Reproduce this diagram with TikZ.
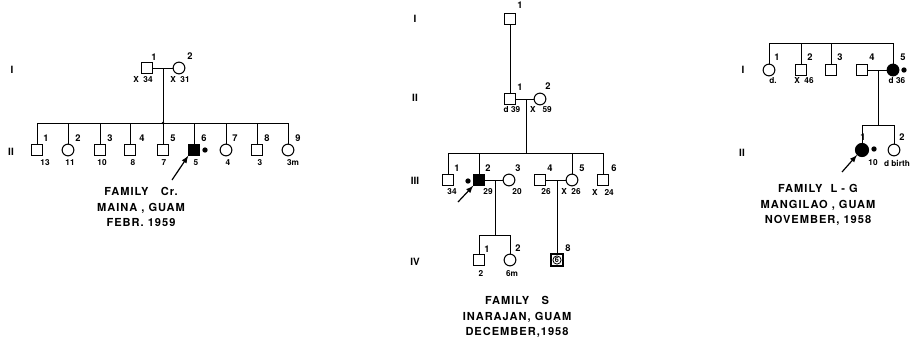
\documentclass[tikz,border=0pt]{standalone}
\usepackage{fontspec}
\setmainfont{TeX Gyre Heros}
\usetikzlibrary{calc}

\begin{document}
\begin{tikzpicture}[x=0.75pt,y=-0.75pt,font=\bfseries\fontsize{7}{8}\selectfont,
  male/.style={draw,line width=0.8pt,rectangle,minimum size=7.8pt,inner sep=0pt},
  female/.style={draw,line width=0.8pt,circle,minimum size=8.8pt,inner sep=0pt},
  sick/.style={fill=black},
  age/.style={font=\bfseries\fontsize{6.2}{6.5}\selectfont},
  dotnode/.style={circle,fill=black,inner sep=0pt,minimum size=4pt},
  gen/.style={font=\bfseries\fontsize{7.5}{8}\selectfont},
  title/.style={font=\bfseries\fontsize{8.3}{11.5}\selectfont\addfontfeatures{LetterSpace=9},align=center},
  link/.style={line width=0.5pt},
  pointer/.style={-latex,line width=0.9pt}]
  \useasboundingbox (0,0) rectangle (921,340);

  % family Cr
  \node[gen] (crI) at (12,70) {I};
  \node[gen] (crII) at (11,152) {II};
  \node[male] (cr1) at (147,68) {};
  \node[female] (cr2) at (179,68) {};
  \node (crn1) at (154,57) {1};
  \node (crn2) at (190,56) {2};
  \node[age] (cra1) at (143,80) {X\ \ 34};
  \node[age] (cra2) at (180,80) {X\ \ 31};
  \coordinate (crm) at (163,68);
  \coordinate (crs) at (163,123);
  \draw[link] (cr1) -- (cr2);
  \draw[link] (crm) -- (crs);
  \fill (crs) circle (1pt);
  \node[male] (c1) at (37,150) {};
  \node[female] (c2) at (68,150) {};
  \node[male] (c3) at (100,150) {};
  \node[male] (c4) at (130,150) {};
  \node[male] (c5) at (163,150) {};
  \node[male,sick] (c6) at (194,150) {};
  \node[female] (c7) at (226,150) {};
  \node[male] (c8) at (257,150) {};
  \node[female] (c9) at (288,150) {};
  \draw[link] (c1 |- crs) -- (c9 |- crs);
  \foreach \k in {1,...,9}
    \draw[link] (c\k |- crs) -- (c\k);
  \node (cn1) at (46,138) {1};
  \node (cn2) at (78,138) {2};
  \node (cn3) at (110,138) {3};
  \node (cn4) at (142,138) {4};
  \node (cn5) at (173,138) {5};
  \node (cn6) at (204,138) {6};
  \node (cn7) at (235,138) {7};
  \node (cn8) at (267,138) {8};
  \node (cn9) at (298,138) {9};
  \node[age] (ca1) at (45,163) {13};
  \node[age] (ca2) at (70,163) {11};
  \node[age] (ca3) at (102,163) {10};
  \node[age] (ca4) at (133,163) {8};
  \node[age] (ca5) at (164,163) {7};
  \node[age] (ca6) at (196,163) {5};
  \node[age] (ca7) at (228,163) {4};
  \node[age] (ca8) at (260,163) {3};
  \node[age] (ca9) at (293,163) {3m};
  \node[dotnode] (cd6) at (205,150) {};
  \coordinate (crp) at (172,180);
  \draw[pointer] (crp) -- (c6.south west);
  \node[title] (crt) at (141,207) {FAMILY\ \ \ Cr.\\MAINA , GUAM\\FEBR. 1959};

  % family S
  \node[gen] (sI) at (415,19) {I};
  \node[gen] (sII) at (415,98) {II};
  \node[gen] (sIII) at (415,181) {III};
  \node[gen] (sIV) at (415,262) {IV};
  \node[male] (s1) at (510,19) {};
  \node (sn1) at (520,5) {1};
  \node[male] (s21) at (510,99) {};
  \node[female] (s22) at (540,99) {};
  \node (sn21) at (520,87) {1};
  \node (sn22) at (548,86) {2};
  \node[age] (sa21) at (512,110) {d\ 39};
  \node[age] (sa22) at (541,110) {X\ \ \ 59};
  \draw[link] (s1) -- (s21);
  \draw[link] (s21) -- (s22);
  \coordinate (sm2) at (526,99);
  \coordinate (ss3) at (526,153);
  \draw[link] (sm2) -- (ss3);
  \node[male] (s31) at (448,180) {};
  \node[male,sick] (s32) at (479,180) {};
  \node[female] (s33) at (509,180) {};
  \node[male] (s34) at (540,180) {};
  \node[female] (s35) at (572,180) {};
  \node[male] (s36) at (603,180) {};
  \draw[link] (s31 |- ss3) -- (s36 |- ss3);
  \foreach \k in {31,32,35,36}
    \draw[link] (s\k |- ss3) -- (s\k);
  \node (sn31) at (457,168) {1};
  \node (sn32) at (488,168) {2};
  \node (sn33) at (518,168) {3};
  \node (sn34) at (550,168) {4};
  \node (sn35) at (582,168) {5};
  \node (sn36) at (614,168) {6};
  \node[age] (sa31) at (452,192) {34};
  \node[age] (sa32) at (488,192) {29};
  \node[age] (sa33) at (517,192) {20};
  \node[age] (sa34) at (546,192) {26};
  \node[age] (sa35) at (571,192) {X\ \ 26};
  \node[age] (sa36) at (603,192) {X\ \ \ 24};
  \node[dotnode] (sd32) at (468,181) {};
  \coordinate (sp) at (458,202);
  \draw[pointer] (sp) -- (s32.south west);
  \draw[link] (s32) -- (s33);
  \draw[link] (s34) -- (s35);
  \coordinate (sm3a) at (495,180);
  \coordinate (ss4) at (495,235);
  \coordinate (sm3b) at (557,180);
  \draw[link] (sm3a) -- (ss4);
  \node[male] (s41) at (479,260) {};
  \node[female] (s42) at (510,260) {};
  \node[male,line width=1.4pt,minimum size=9.5pt] (s48) at (557,260) {};
  \node[circle,draw,line width=0.6pt,inner sep=0.4pt,font=\bfseries\fontsize{5.5}{5.5}\selectfont] (s48c) at (s48) {6};
  \draw[link] (s41 |- ss4) -- (s42 |- ss4);
  \draw[link] (s41 |- ss4) -- (s41);
  \draw[link] (s42 |- ss4) -- (s42);
  \draw[link] (sm3b) -- (s48);
  \node (sn41) at (487,249) {1};
  \node (sn42) at (518,248) {2};
  \node (sn48) at (568,248) {8};
  \node[age] (sa41) at (481,274) {2};
  \node[age] (sa42) at (512,274) {6m};
  \node[title] (st) at (517,317) {FAMILY\ \ \ S\\INARAJAN, GUAM\\DECEMBER,1958};

  % family L-G
  \node[gen] (gI) at (743,70) {I};
  \node[gen] (gII) at (742,153) {II};
  \node[female] (g1) at (769,70) {};
  \node[male] (g2) at (801,70) {};
  \node[male] (g3) at (831,70) {};
  \node[male] (g4) at (862,70) {};
  \node[female,sick] (g5) at (893,70) {};
  \coordinate (gs1) at (831,43);
  \draw[link] (g1 |- gs1) -- (g5 |- gs1);
  \foreach \k in {1,2,3,5}
    \draw[link] (g\k |- gs1) -- (g\k);
  \node (gn1) at (777,57) {1};
  \node (gn2) at (810,57) {2};
  \node (gn3) at (840,57) {3};
  \node (gn4) at (872,57) {4};
  \node (gn5) at (903,57) {5};
  \node[age] (ga1) at (773,81) {d.};
  \node[age] (ga2) at (804,81) {X\ \ 46};
  \node[age] (ga5) at (897,81) {d\ 36};
  \node[dotnode] (gd5) at (904,70) {};
  \draw[link] (g4) -- (g5);
  \coordinate (gm) at (878,70);
  \coordinate (gs2) at (878,125);
  \draw[link] (gm) -- (gs2);
  \node[female,sick,minimum size=9.8pt] (h1) at (862,150) {};
  \node[female] (h2) at (894,150) {};
  \draw[link] (h1 |- gs2) -- (h2 |- gs2);
  \draw[link] (h1 |- gs2) -- (h1);
  \draw[link] (h2 |- gs2) -- (h2);
  \node (hn1) at (863,137) {1};
  \node (hn2) at (902,137) {2};
  \node[age] (ha1) at (873,163) {10};
  \node[age] (ha2) at (897,163) {d\ birth};
  \node[dotnode] (hd1) at (874,149) {};
  \coordinate (gp) at (842,172);
  \draw[pointer] (gp) -- (h1.south west);
  \node[title] (gt) at (818,205) {FAMILY\ \ L - G\\MANGILAO , GUAM\\NOVEMBER, 1958};
\end{tikzpicture}
\end{document}
